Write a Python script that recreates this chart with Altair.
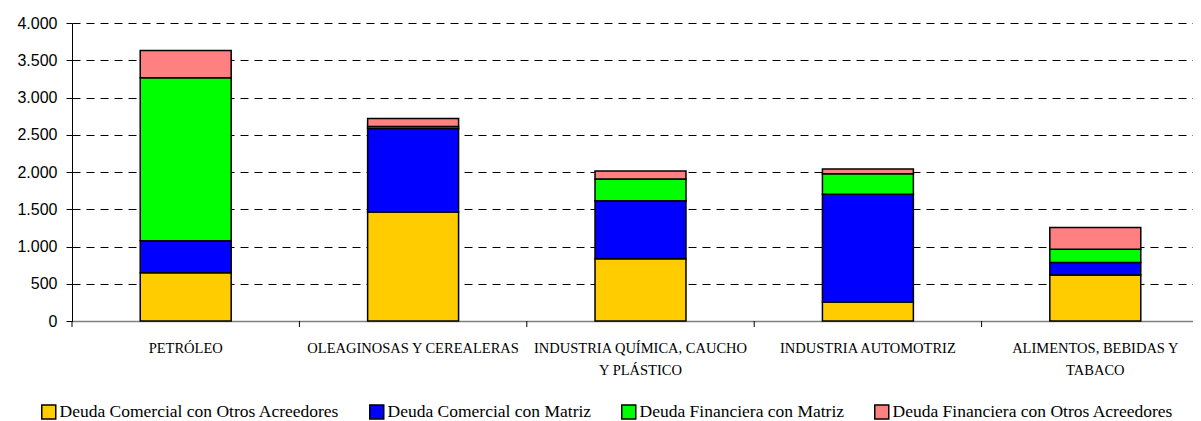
import json
import altair as alt
import pandas as pd

categories = [
    "PETRÓLEO",
    "OLEAGINOSAS Y CEREALERAS",
    "INDUSTRIA QUÍMICA, CAUCHO Y PLÁSTICO",
    "INDUSTRIA AUTOMOTRIZ",
    "ALIMENTOS, BEBIDAS Y TABACO",
]
series = [
    "Deuda Comercial con Otros Acreedores",
    "Deuda Comercial con Matriz",
    "Deuda Financiera con Matriz",
    "Deuda Financiera con Otros Acreedores",
]
comercial_otros = [646, 1462, 834, 256, 619]
comercial_matriz = [430, 1123, 780, 1444, 166]
financiera_matriz = [2188, 27, 292, 277, 179]
financiera_otros = [368, 105, 107, 63, 292]
colors = ["#FFCC00", "#0000FF", "#00FF00", "#FF8080"]
label_lines = {
    "INDUSTRIA QUÍMICA, CAUCHO Y PLÁSTICO": ["INDUSTRIA QUÍMICA, CAUCHO", "Y PLÁSTICO"],
    "ALIMENTOS, BEBIDAS Y TABACO": ["ALIMENTOS, BEBIDAS Y", "TABACO"],
}
y_ticks = [0, 500, 1000, 1500, 2000, 2500, 3000, 3500, 4000]

rows = []
for s_i, (name, vals) in enumerate(zip(series, [comercial_otros, comercial_matriz, financiera_matriz, financiera_otros])):
    for c, v in zip(categories, vals):
        rows.append({"cat": c, "series": name, "value": v, "idx": s_i})
df = pd.DataFrame(rows)

label_expr = "datum.label"
for k, v in label_lines.items():
    label_expr = f"datum.label === {json.dumps(k, ensure_ascii=False)} ? {json.dumps(v, ensure_ascii=False)} : " + label_expr

PLOT_W = 1121          # visible plot area, kept inside the page
BAND_RANGE = 1137      # category cells continue past the visible edge, as in the source
PLOT_H = 298
STEP = BAND_RANGE / len(categories)
x_scale = alt.Scale(paddingInner=0.6, paddingOuter=0.3, range=[0, BAND_RANGE])

bars = alt.Chart(df).mark_bar(stroke="black", strokeWidth=1.5).encode(
    x=alt.X(
        "cat:N",
        sort=categories,
        scale=x_scale,
        axis=alt.Axis(
            title=None,
            labelAngle=0,
            ticks=False,
            labelExpr=label_expr,
            labelFont="Liberation Serif",
            labelFontSize=14.5,
            labelColor="black",
            labelLineHeight=22,
            labelPadding=20,
            labelLimit=400,
            labelOverlap=False,
            domainColor="#808080",
            domainWidth=1.5,
        ),
    ),
    y=alt.Y(
        "value:Q",
        stack="zero",
        scale=alt.Scale(domain=[0, 4000], nice=False),
        axis=alt.Axis(
            values=y_ticks,
            title=None,
            labelExpr="replace(format(datum.value, ','), ',', '.')",
            labelFont="Liberation Sans",
            labelFontSize=16,
            labelColor="black",
            tickColor="black",
            tickSize=6,
            labelPadding=9,
            domainColor="black",
            grid=True,
            gridColor="black",
            gridDash=[8, 6],
            gridWidth=1,
        ),
    ),
    color=alt.Color(
        "series:N",
        sort=series,
        scale=alt.Scale(domain=series, range=colors),
        legend=alt.Legend(
            orient="none",
            legendX=-32,
            legendY=380,
            direction="horizontal",
            title=None,
            labelFont="Liberation Serif",
            labelFontSize=17.5,
            labelColor="black",
            symbolType="square",
            symbolSize=196,
            symbolStrokeColor="black",
            symbolStrokeWidth=1.5,
            symbolOpacity=1,
            labelOffset=2,
            columnPadding=26,
            padding=0,
            labelLimit=400,
        ),
    ),
    order=alt.Order("idx:Q", sort="ascending"),
)

ticks = alt.Chart(pd.DataFrame({"cat": categories})).mark_rule(
    color="black", strokeWidth=1, xOffset=-0.3 * STEP
).encode(
    x=alt.X("cat:N", sort=categories, bandPosition=0),
    y=alt.value(PLOT_H),
    y2=alt.value(PLOT_H + 6),
)

chart = (
    alt.layer(bars, ticks)
    .properties(
        width=PLOT_W,
        height=PLOT_H,
        padding={"left": 64, "top": 15, "right": 0, "bottom": 100},
        autosize="none",
        background="white",
    )
    .configure_view(stroke=None)
)

chart.save("out.html", embed_options={"renderer": "svg", "actions": False})
